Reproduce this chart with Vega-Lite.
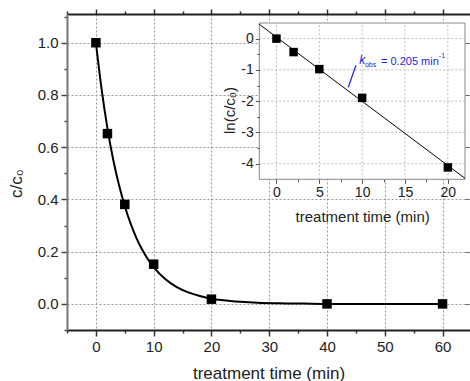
{
  "$schema": "https://vega.github.io/schema/vega-lite/v6.json",
  "width": 403,
  "height": 316,
  "autosize": {"type": "none"},
  "padding": {"left": 67, "top": 14, "right": 0, "bottom": 51},
  "background": "white",
  "config": {
    "view": {"stroke": null},
    "font": "Liberation Sans",
    "axis": {
      "labelFont": "Liberation Sans",
      "titleFont": "Liberation Sans",
      "labelColor": "#222",
      "titleColor": "#222",
      "titleFontWeight": "normal",
      "labelOverlap": false,
      "labelBound": false,
      "labelFlush": false
    }
  },
  "datasets": {
    "fit": [
      {"t": 0, "c": 1.0}, {"t": 1, "c": 0.82}, {"t": 2, "c": 0.672}, {"t": 3, "c": 0.552},
      {"t": 4, "c": 0.455}, {"t": 5, "c": 0.375}, {"t": 6, "c": 0.308}, {"t": 7, "c": 0.253},
      {"t": 8, "c": 0.208}, {"t": 9, "c": 0.171}, {"t": 10, "c": 0.141}, {"t": 12, "c": 0.095},
      {"t": 14, "c": 0.064}, {"t": 16, "c": 0.044}, {"t": 18, "c": 0.03}, {"t": 20, "c": 0.02},
      {"t": 22, "c": 0.014}, {"t": 25, "c": 0.008}, {"t": 28, "c": 0.004}, {"t": 32, "c": 0.002},
      {"t": 36, "c": 0.001}, {"t": 40, "c": 0.0}, {"t": 50, "c": 0.0}, {"t": 60, "c": 0.0}
    ],
    "pts": [
      {"t": 0, "c": 1.0}, {"t": 2, "c": 0.652}, {"t": 5, "c": 0.381}, {"t": 10, "c": 0.152},
      {"t": 20, "c": 0.018}, {"t": 40, "c": 0.0}, {"t": 60, "c": 0.0}
    ],
    "box": [{"x0": -2, "x1": 22, "y0": -4.5, "y1": 0.5}],
    "gridT": [{"t": 0}, {"t": 5}, {"t": 10}, {"t": 15}, {"t": 20}],
    "gridV": [{"v": 0}, {"v": -1}, {"v": -2}, {"v": -3}, {"v": -4}],
    "fitline": [{"t": -2, "v": 0.46}, {"t": 22, "v": -4.47}],
    "ipts": [
      {"t": 0, "v": 0.0}, {"t": 2, "v": -0.43}, {"t": 5, "v": -0.975},
      {"t": 10, "v": -1.895}, {"t": 20, "v": -4.12}
    ],
    "pointer": [{"t1": 8.38, "v1": -1.557, "t2": 9.28, "v2": -0.853}],
    "ann_k": [{"t": 9.67, "v": -0.81, "txt": "k"}],
    "ann_obs": [{"t": 10.33, "v": -0.92, "txt": "obs"}],
    "ann_main": [{"t": 12.2, "v": -0.83, "txt": "= 0.205 min"}],
    "ann_sup": [{"t": 18.95, "v": -0.62, "txt": "-1"}]
  },
  "layer": [
    {
      "layer": [
        {
          "data": {"name": "fit"},
          "mark": {"type": "line", "color": "black", "strokeWidth": 2, "interpolate": "monotone"},
          "encoding": {
            "x": {
              "field": "t", "type": "quantitative",
              "scale": {"domain": [-5, 64.75], "nice": false, "zero": false},
              "axis": {
                "orient": "bottom",
                "values": [-5, 0, 5, 10, 15, 20, 25, 30, 35, 40, 45, 50, 55, 60],
                "labelExpr": "datum.value % 10 === 0 ? '' + datum.value : ''",
                "tickSize": {"condition": {"test": "datum.value % 10 === 0", "value": 6}, "value": 3},
                "tickColor": "#333", "tickWidth": 1.5,
                "domainColor": "#222", "domainWidth": 2,
                "grid": true, "gridDash": [2, 2], "gridColor": "#999",
                "gridOpacity": {"condition": {"test": "datum.value % 10 === 0", "value": 1}, "value": 0},
                "labelFontSize": 15, "labelPadding": 3,
                "title": "treatment time (min)", "titleFontSize": 17,
                "titleY": 48, "titleBaseline": "alphabetic"
              }
            },
            "y": {
              "field": "c", "type": "quantitative",
              "scale": {"domain": [-0.1, 1.11], "nice": false, "zero": false},
              "axis": {
                "orient": "left",
                "values": [-0.1, 0, 0.1, 0.2, 0.3, 0.4, 0.5, 0.6, 0.7, 0.8, 0.9, 1.0, 1.1],
                "labelExpr": "round(datum.value*10) % 2 === 0 ? format(datum.value, '.1f') : ''",
                "tickSize": {"condition": {"test": "round(datum.value*10) % 2 === 0", "value": 6}, "value": 3},
                "tickColor": "#444", "tickWidth": 1.5,
                "domainColor": "#777", "domainWidth": 2,
                "grid": true, "gridDash": [2, 2], "gridColor": "#999",
                "gridOpacity": {"condition": {"test": "round(datum.value*10) % 2 === 0", "value": 1}, "value": 0},
                "labelFontSize": 15, "labelPadding": 3,
                "title": "c/c₀", "titleFontSize": 17,
                "titleX": -46, "titleY": 169, "titleBaseline": "alphabetic"
              }
            }
          }
        },
        {
          "data": {"name": "pts"},
          "mark": {"type": "point", "shape": "square", "filled": true, "color": "black", "size": 90, "opacity": 1},
          "encoding": {
            "x": {
              "field": "t", "type": "quantitative",
              "axis": {
                "orient": "top",
                "values": [-5, 0, 5, 10, 15, 20, 25, 30, 35, 40, 45, 50, 55, 60],
                "labels": false, "grid": false,
                "tickSize": {"condition": {"test": "datum.value % 10 === 0", "value": 5}, "value": 3},
                "tickColor": "#333", "tickWidth": 1.5,
                "domainColor": "#222", "domainWidth": 2,
                "title": null
              }
            },
            "y": {
              "field": "c", "type": "quantitative",
              "axis": {
                "orient": "right",
                "values": [0, 0.2, 0.4, 0.6, 0.8, 1.0],
                "labels": false, "grid": false, "domain": false,
                "offset": -5, "tickSize": 4, "tickColor": "#666", "tickWidth": 1,
                "title": null
              }
            }
          }
        }
      ],
      "resolve": {"axis": {"x": "independent", "y": "independent"}}
    },
    {
      "layer": [
        {
          "data": {"name": "box"},
          "mark": {"type": "rect", "fill": "white", "stroke": "#888", "strokeWidth": 1},
          "encoding": {
            "x": {
              "field": "x0", "type": "quantitative",
              "scale": {"domain": [-2, 22], "range": [192.3, 398], "nice": false, "zero": false},
              "axis": {
                "orient": "bottom", "offset": -150.7, "zindex": 1,
                "values": [0, 2.5, 5, 7.5, 10, 12.5, 15, 17.5, 20],
                "labelExpr": "datum.value % 5 === 0 ? '' + datum.value : ''",
                "tickSize": {"condition": {"test": "datum.value % 5 === 0", "value": 4}, "value": 2.5},
                "tickColor": "#555", "tickWidth": 1,
                "domain": false, "grid": false,
                "labelFontSize": 14, "labelPadding": 2,
                "title": "treatment time (min)", "titleFontSize": 15,
                "titleY": 42, "titleBaseline": "alphabetic"
              }
            },
            "x2": {"field": "x1"},
            "y": {
              "field": "y0", "type": "quantitative",
              "scale": {"domain": [-4.5, 0.5], "range": [165.3, 9], "nice": false, "zero": false},
              "axis": {
                "orient": "left", "offset": -192.3, "zindex": 1,
                "values": [-4, -3.5, -3, -2.5, -2, -1.5, -1, -0.5, 0],
                "labelExpr": "datum.value % 1 === 0 ? '' + datum.value : ''",
                "tickSize": {"condition": {"test": "datum.value % 1 === 0", "value": 4}, "value": 2.5},
                "tickColor": "#555", "tickWidth": 1,
                "domain": false, "grid": false,
                "labelFontSize": 14, "labelPadding": 2,
                "title": "ln(c/c₀)", "titleFontSize": 15,
                "titleX": -25, "titleY": 96, "titleBaseline": "alphabetic"
              }
            },
            "y2": {"field": "y1"}
          }
        },
        {
          "data": {"name": "gridT"},
          "mark": {"type": "rule", "color": "#bbb", "strokeWidth": 1, "strokeDash": [2, 2]},
          "encoding": {
            "x": {"field": "t", "type": "quantitative", "axis": null},
            "y": {"datum": -4.5, "type": "quantitative", "axis": null},
            "y2": {"datum": 0.5}
          }
        },
        {
          "data": {"name": "gridV"},
          "mark": {"type": "rule", "color": "#bbb", "strokeWidth": 1, "strokeDash": [2, 2]},
          "encoding": {
            "y": {"field": "v", "type": "quantitative", "axis": null},
            "x": {"datum": -2, "type": "quantitative", "axis": null},
            "x2": {"datum": 22}
          }
        },
        {
          "data": {"name": "fitline"},
          "mark": {"type": "line", "color": "black", "strokeWidth": 1},
          "encoding": {
            "x": {"field": "t", "type": "quantitative", "axis": null},
            "y": {"field": "v", "type": "quantitative", "axis": null}
          }
        },
        {
          "data": {"name": "ipts"},
          "mark": {"type": "point", "shape": "square", "filled": true, "color": "black", "size": 72, "opacity": 1},
          "encoding": {
            "x": {"field": "t", "type": "quantitative", "axis": null},
            "y": {"field": "v", "type": "quantitative", "axis": null}
          }
        },
        {
          "data": {"name": "pointer"},
          "mark": {"type": "rule", "color": "#1f1fe0", "strokeWidth": 1.2},
          "encoding": {
            "x": {"field": "t1", "type": "quantitative", "axis": null},
            "y": {"field": "v1", "type": "quantitative", "axis": null},
            "x2": {"field": "t2"},
            "y2": {"field": "v2"}
          }
        },
        {
          "data": {"name": "ann_k"},
          "mark": {"type": "text", "color": "#1f1fe0", "fontSize": 12, "fontStyle": "italic", "align": "left", "baseline": "alphabetic", "font": "Liberation Sans"},
          "encoding": {
            "x": {"field": "t", "type": "quantitative", "axis": null},
            "y": {"field": "v", "type": "quantitative", "axis": null},
            "text": {"field": "txt"}
          }
        },
        {
          "data": {"name": "ann_obs"},
          "mark": {"type": "text", "color": "#1f1fe0", "fontSize": 7, "align": "left", "baseline": "alphabetic", "font": "Liberation Sans"},
          "encoding": {
            "x": {"field": "t", "type": "quantitative", "axis": null},
            "y": {"field": "v", "type": "quantitative", "axis": null},
            "text": {"field": "txt"}
          }
        },
        {
          "data": {"name": "ann_main"},
          "mark": {"type": "text", "color": "#1f1fe0", "fontSize": 11, "align": "left", "baseline": "alphabetic", "font": "Liberation Sans"},
          "encoding": {
            "x": {"field": "t", "type": "quantitative", "axis": null},
            "y": {"field": "v", "type": "quantitative", "axis": null},
            "text": {"field": "txt"}
          }
        },
        {
          "data": {"name": "ann_sup"},
          "mark": {"type": "text", "color": "#1f1fe0", "fontSize": 7, "align": "left", "baseline": "alphabetic", "font": "Liberation Sans"},
          "encoding": {
            "x": {"field": "t", "type": "quantitative", "axis": null},
            "y": {"field": "v", "type": "quantitative", "axis": null},
            "text": {"field": "txt"}
          }
        }
      ],
      "resolve": {"axis": {"x": "independent", "y": "independent"}}
    }
  ],
  "resolve": {
    "scale": {"x": "independent", "y": "independent"},
    "axis": {"x": "independent", "y": "independent"}
  }
}
